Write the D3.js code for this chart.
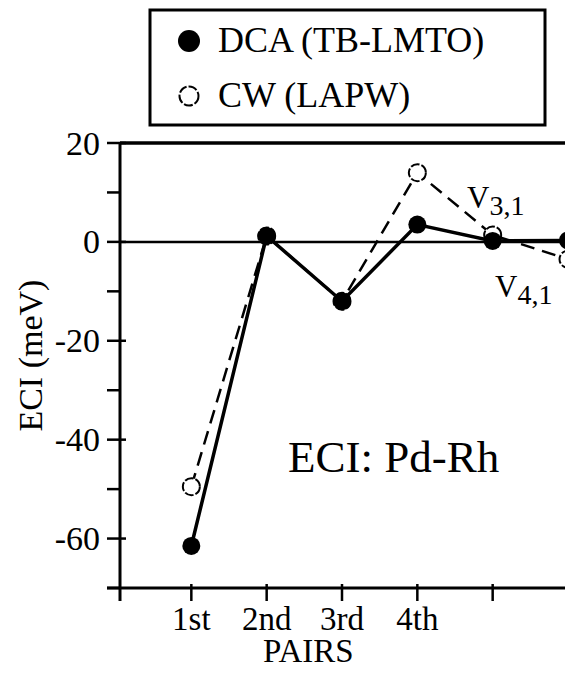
<!DOCTYPE html>
<meta charset="utf-8">
<body style="margin:0;background:#fff">
<svg id="chart" width="565" height="681"></svg>
</body>

<style>
text {
  font-family: "Liberation Serif", "Times New Roman", serif;
  fill: #000;
}
</style>

<script src="https://d3js.org/d3.v7.min.js"></script>
<script>

// dados
var pares = [1, 2, 3, 4, 5, 6];
var rotulosPares = ["1st", "2nd", "3rd", "4th"];
var dca = [-61.5, 1.2, -12, 3.5, 0.2, 0.3];     // DCA (TB-LMTO)
var cw = [-49.5, 1.2, -12, 14, 1.4, -3.5];      // CW (LAPW)
var ticksY = [20, 0, -20, -40, -60];
var ticksYmenores = [10, -10, -30, -50, -70];
var legenda = ["DCA (TB-LMTO)", "CW (LAPW)"];

var svg = d3.select("#chart");

var eixoX0 = 120, topo = 143, base = 588;

var x = d3.scaleLinear().domain([0, 6]).range([116, 568]);
var y = d3.scaleLinear().domain([-70, 20]).range([base, topo]);

// linha do topo (moldura)
svg.append("line")
    .attr("x1", eixoX0).attr("x2", 565)
    .attr("y1", y(20)).attr("y2", y(20))
    .attr("stroke", "#000").attr("stroke-width", 3.5);

// linha do zero
svg.append("line")
    .attr("x1", eixoX0).attr("x2", 565)
    .attr("y1", y(0)).attr("y2", y(0))
    .attr("stroke", "#000").attr("stroke-width", 2.5);

// eixo Y
var gy = svg.append("g").attr("transform", "translate(" + eixoX0 + ",0)");
gy.append("line")
    .attr("y1", y(20)).attr("y2", base + 13)
    .attr("stroke", "#000").attr("stroke-width", 3);
gy.selectAll("line.maior").data(ticksY).enter().append("line")
    .attr("class", "maior")
    .attr("x1", -13).attr("x2", 6)
    .attr("y1", d => y(d)).attr("y2", d => y(d))
    .attr("stroke", "#000").attr("stroke-width", 2.5);
gy.selectAll("line.menor").data(ticksYmenores).enter().append("line")
    .attr("class", "menor")
    .attr("x1", -13).attr("x2", 0)
    .attr("y1", d => y(d)).attr("y2", d => y(d))
    .attr("stroke", "#000").attr("stroke-width", 2.5);
gy.selectAll("text").data(ticksY).enter().append("text")
    .attr("x", -20).attr("y", d => y(d))
    .attr("dy", "0.34em")
    .attr("text-anchor", "end")
    .attr("font-size", 34)
    .text(d => d);

svg.append("text")
    .attr("transform", "translate(42," + y(-23) + ") rotate(-90)")
    .attr("text-anchor", "middle")
    .attr("font-size", 34)
    .text("ECI (meV)");

// eixo X
var gx = svg.append("g").attr("transform", "translate(0," + base + ")");
gx.append("line")
    .attr("x1", eixoX0 - 13).attr("x2", 565)
    .attr("stroke", "#000").attr("stroke-width", 3);
gx.selectAll("line.tick").data(pares.slice(0, 5)).enter().append("line")
    .attr("class", "tick")
    .attr("x1", d => x(d)).attr("x2", d => x(d))
    .attr("y1", -4).attr("y2", 13)
    .attr("stroke", "#000").attr("stroke-width", 2.5);
gx.selectAll("text").data(rotulosPares).enter().append("text")
    .attr("x", (d, i) => x(pares[i]))
    .attr("y", 42)
    .attr("text-anchor", "middle")
    .attr("font-size", 33)
    .text(d => d);
svg.append("text")
    .attr("x", (x(2) + x(3)) / 2 + 4)
    .attr("y", base + 74)
    .attr("text-anchor", "middle")
    .attr("font-size", 33)
    .text("PAIRS");

// linhas das séries
var linha = d3.line().x((d, i) => x(pares[i])).y(d => y(d));

svg.append("path")
    .datum(cw)
    .attr("d", linha)
    .attr("fill", "none")
    .attr("stroke", "#000")
    .attr("stroke-width", 2.5)
    .attr("stroke-dasharray", "14,8");

svg.append("path")
    .datum(dca)
    .attr("d", linha)
    .attr("fill", "none")
    .attr("stroke", "#000")
    .attr("stroke-width", 3.5);

svg.selectAll("circle.cw").data(cw).enter().append("circle")
    .attr("class", "cw")
    .attr("cx", (d, i) => x(pares[i]))
    .attr("cy", d => y(d))
    .attr("r", 8.5)
    .attr("fill", "#fff")
    .attr("stroke", "#000")
    .attr("stroke-width", 2)
    .attr("stroke-dasharray", "9,2");

svg.selectAll("circle.dca").data(dca).enter().append("circle")
    .attr("class", "dca")
    .attr("cx", (d, i) => x(pares[i]))
    .attr("cy", d => y(d))
    .attr("r", 9)
    .attr("fill", "#000");

// rótulos de texto dentro do gráfico
svg.append("text")
    .attr("x", 288).attr("y", 472)
    .attr("font-size", 45)
    .text("ECI: Pd-Rh");

function rotuloV(px, py, sub) {
  var t = svg.append("text").attr("x", px).attr("y", py).attr("font-size", 31);
  t.append("tspan").text("V");
  t.append("tspan").attr("dy", 7).attr("font-size", 28).text(sub);
}
rotuloV(467, 208, "3,1");
rotuloV(495, 297, "4,1");

// legenda
svg.append("rect")
    .attr("x", 150).attr("y", 10)
    .attr("width", 395).attr("height", 115)
    .attr("fill", "#fff")
    .attr("stroke", "#000")
    .attr("stroke-width", 3);

var itens = svg.selectAll("g.leg").data(legenda).enter().append("g")
    .attr("class", "leg")
    .attr("transform", (d, i) => "translate(0," + (i * 55) + ")");
itens.append("circle")
    .attr("cx", 189).attr("cy", 41)
    .attr("r", (d, i) => i === 0 ? 11 : 9.5)
    .attr("fill", (d, i) => i === 0 ? "#000" : "#fff")
    .attr("stroke", "#000")
    .attr("stroke-width", (d, i) => i === 0 ? 0 : 2)
    .attr("stroke-dasharray", (d, i) => i === 0 ? null : "9,2");
itens.append("text")
    .attr("x", 218).attr("y", 52)
    .attr("font-size", 36)
    .text(d => d);

</script>
